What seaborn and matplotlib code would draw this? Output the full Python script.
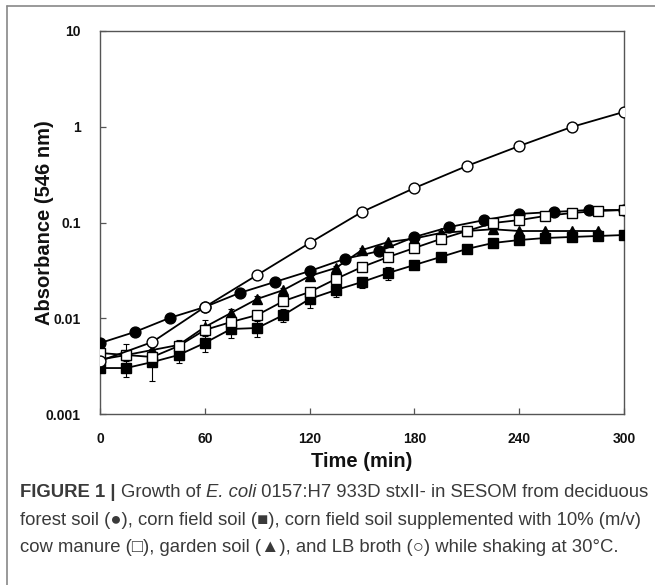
import numpy as np
import pandas as pd
import seaborn as sns
import matplotlib
matplotlib.use("Agg")
import matplotlib.pyplot as plt
from matplotlib.lines import Line2D

# ---------------- data ----------------
t_forest = [0, 20, 40, 60, 80, 100, 120, 140, 160, 180, 200, 220, 240, 260, 280, 300]
forest = [0.0055, 0.0072, 0.0101, 0.0131, 0.0184, 0.0239, 0.0311, 0.0416, 0.0504,
          0.0706, 0.0897, 0.106, 0.123, 0.129, 0.135, 0.135]

t15 = [0, 15, 30, 45, 60, 75, 90, 105, 120, 135, 150, 165, 180, 195, 210, 225, 240,
       255, 270, 285, 300]
corn = [0.00302, 0.00302, 0.00349, 0.00413, 0.00552, 0.00772, 0.00791, 0.0108, 0.0159,
        0.0197, 0.0239, 0.0297, 0.0360, 0.0436, 0.0529, 0.0611, 0.0656, 0.0689, 0.0706,
        0.0723, 0.0740]
corn_err = [0.0002, 0.0006, 0.0013, 0.0007, 0.0011, 0.0015, 0.0015, 0.0017, 0.003,
            0.003, 0.003, 0.0045, 0.003, 0.003, 0.003, 0.003, 0.003, 0.003, 0.003,
            0.003, 0.003]

manure = [0.00434, 0.00413, 0.00394, 0.00513, 0.00754, 0.00914, 0.0108, 0.0151, 0.0188,
          0.0257, 0.0343, 0.0436, 0.0542, 0.0672, 0.0815, 0.0988, 0.106, 0.117, 0.1256,
          0.1318, 0.135]
manure_err = [0.0002, 0.0003, 0.0004, 0.0005, 0.0008, 0.0008, 0.0010, 0.0012, 0.0015,
              0.0015, 0.002, 0.002, 0.002, 0.003, 0.003, 0.003, 0.004, 0.004, 0.004,
              0.004, 0.004]

t_garden = [0, 15, 30, 45, 60, 75, 90, 105, 120, 135, 150, 165, 180, 195, 210, 225,
            240, 255, 270, 285]
garden = [0.0037, 0.00413, 0.00466, 0.00526, 0.0081, 0.01135, 0.0159, 0.0197, 0.0276,
          0.0335, 0.0516, 0.0625, 0.068, 0.0777, 0.0815, 0.085, 0.0815, 0.0815, 0.0815,
          0.0815]
garden_err = [0.0002, 0.0012, 0.0006, 0.0007, 0.0015, 0.0012, 0.0012, 0.0012, 0.0015,
              0.0015, 0.002, 0.002, 0.003, 0.003, 0.003, 0.003, 0.003, 0.003, 0.003,
              0.003]

t_lb = [0, 30, 60, 90, 120, 150, 180, 210, 240, 270, 300]
lb = [0.00358, 0.00565, 0.0131, 0.0283, 0.0611, 0.129, 0.229, 0.389, 0.629, 0.994, 1.43]

x_ticks = [0, 60, 120, 180, 240, 300]
y_ticks = [0.001, 0.01, 0.1, 1, 10]
y_ticklabels = ["0.001", "0.01", "0.1", "1", "10"]

xlabel = "Time (min)"
ylabel = "Absorbance (546 nm)"

# ---------------- figure ----------------
sns.set_theme(style="white")
plt.rcParams["font.family"] = ["Liberation Sans", "DejaVu Sans"]

fig = plt.figure(figsize=(6.55, 5.85), dpi=100)
W, H = 655, 585
ax = fig.add_axes([100 / W, 1 - 414 / H, 524 / W, 383 / H])

lw = 1.3
ms = 7.8

def draw(t, v, marker, face, err=None, z=3, size=ms):
    df = pd.DataFrame({"t": t, "v": v})
    if err is not None:
        ax.errorbar(t, v, yerr=err, fmt="none", ecolor="black", elinewidth=0.8,
                    capsize=2.5, capthick=0.8, zorder=z - 0.5)
    sns.lineplot(data=df, x="t", y="v", ax=ax, color="black", linewidth=lw,
                 marker=marker, markersize=size, markerfacecolor=face,
                 markeredgecolor="black", markeredgewidth=1.0, zorder=z)

draw(t15, corn, "s", "black", corn_err, z=3, size=7.2)
draw(t_garden, garden, "^", "black", garden_err, z=4)
draw(t_forest, forest, "o", "black", None, z=5)
draw(t15, manure, "s", "white", manure_err, z=6, size=7.2)
draw(t_lb, lb, "o", "white", None, z=7)

ax.set_yscale("log")
ax.set_xlim(0, 300)
ax.set_ylim(0.001, 10)
ax.set_xticks(x_ticks)
ax.set_xticklabels([str(v) for v in x_ticks])
ax.set_yticks(y_ticks)
ax.set_yticklabels(y_ticklabels)
ax.minorticks_off()
ax.yaxis.set_minor_locator(matplotlib.ticker.NullLocator())

for lab in ax.get_xticklabels() + ax.get_yticklabels():
    lab.set_fontweight("bold")
    lab.set_fontsize(10)
    lab.set_color("#111111")

ax.tick_params(axis="both", direction="in", length=4, width=0.9, color="#555555")
ax.tick_params(axis="x", pad=13)
ax.tick_params(axis="y", pad=14)
ax.tick_params(axis="x", which="both", bottom=True, top=False)
ax.tick_params(axis="y", which="both", left=True, right=False)

for sp in ax.spines.values():
    sp.set_visible(True)
    sp.set_color("#555555")
    sp.set_linewidth(1.0)

ax.set_xlabel(xlabel, fontsize=14.5, fontweight="bold", labelpad=4, color="#111111")
ax.set_ylabel(ylabel, fontsize=14.5, fontweight="bold", color="#111111")
ax.yaxis.set_label_coords((54 - 100) / 524, 0.5)
ax.grid(False)
ax.set_facecolor("white")

# border lines of the figure panel
fig.add_artist(Line2D([7 / W, 7 / W], [0, 1 - 6 / H], transform=fig.transFigure,
                      color="#888888", linewidth=1.2))
fig.add_artist(Line2D([7 / W, 1], [1 - 6 / H, 1 - 6 / H], transform=fig.transFigure,
                      color="#888888", linewidth=1.2))

# ---------------- caption ----------------
fig.canvas.draw()
renderer = fig.canvas.get_renderer()
fs = 13.3
lines = [
    [("FIGURE 1 | ", "bold", "normal"), ("Growth of ", "normal", "normal"),
     ("E. coli", "normal", "italic"),
     (" 0157:H7 933D stxII- in SESOM from deciduous", "normal", "normal")],
    [("forest soil (\u25cf), corn field soil (\u25a0), corn field soil supplemented with 10% (m/v)",
      "normal", "normal")],
    [("cow manure (\u25a1), garden soil (\u25b2), and LB broth (\u25cb) while shaking at 30\u00b0C.",
      "normal", "normal")],
]
baselines = [497, 525, 552]
for parts, yb in zip(lines, baselines):
    x = 20
    for txt, wgt, sty in parts:
        tx = fig.text(x / W, 1 - yb / H, txt, fontsize=fs, fontweight=wgt, fontstyle=sty,
                      color="#3a3a3a", ha="left", va="baseline")
        bb = tx.get_window_extent(renderer=renderer)
        x = x + bb.width

fig.savefig("out.png", dpi=100, facecolor="white")
